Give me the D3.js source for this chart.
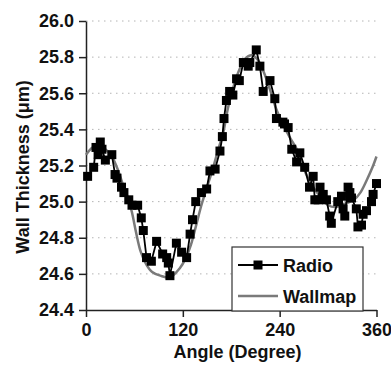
<!DOCTYPE html>
<html>
<head>
<meta charset="utf-8">
<script src="https://cdn.jsdelivr.net/npm/d3@7"></script>
<style>
  body { margin: 0; background: #fff; }
  svg text { font-family: "Liberation Sans", Arial, sans-serif; font-weight: bold; }
</style>
</head>
<body>
<div id="chart"></div>
<script>
// Radio measurement (angle in degrees, wall thickness in um)
var radioAngle = [2, 9.5, 12.4, 15, 17.7, 19.8, 24, 32, 36, 38.4, 44, 47, 53, 57, 64, 68.5, 71, 75, 81, 87.5,
  95, 100, 102, 104, 112, 118.5, 124.7, 129, 132, 136, 143, 149.5, 153.6, 160, 166, 169, 171, 174, 178, 182,
  186.6, 190, 195, 201, 203, 211, 215.5, 219.6, 228, 234, 236, 244, 246, 250.5, 255, 261, 265, 271, 277, 281.5,
  283.6, 287.7, 290, 294, 298, 302, 304, 312, 316.6, 318.6, 320.7, 324.8, 327, 329, 335, 337, 341.4, 343.4, 347.6, 353.8,
  355.8, 360];
var radioValue = [25.14, 25.19, 25.30, 25.26, 25.33, 25.29, 25.23, 25.26, 25.15, 25.13, 25.08, 25.05, 25.01, 24.98, 24.98, 24.91, 24.84, 24.69, 24.67, 24.78,
  24.71, 24.69, 24.66, 24.59, 24.77, 24.72, 24.69, 24.82, 24.90, 25.00, 25.05, 25.07, 25.17, 25.18, 25.28, 25.36, 25.46, 25.56, 25.61, 25.59,
  25.68, 25.67, 25.77, 25.75, 25.77, 25.84, 25.75, 25.61, 25.67, 25.57, 25.46, 25.44, 25.43, 25.41, 25.29, 25.22, 25.27, 25.19, 25.08, 25.14,
  25.01, 25.01, 25.08, 25.04, 25.01, 24.92, 24.88, 25.00, 25.03, 24.96, 24.92, 25.08, 25.05, 25.02, 24.96, 24.86, 24.87, 24.93, 24.95, 25.00,
  25.04, 25.10];

// Wallmap curve
var wallmapAngle = [0, 8, 15, 24, 32, 40, 46, 52, 57, 62, 68, 75, 82, 92, 104, 116, 124, 130, 136, 143,
  150, 157, 164, 170, 176, 183, 190, 197, 205, 212, 220, 228, 236, 244, 252, 260, 266, 272, 280, 290,
  300, 310, 322, 332, 340, 348, 355, 360];
var wallmapValue = [25.26, 25.30, 25.31, 25.29, 25.25, 25.17, 25.09, 25.02, 24.94, 24.83, 24.72, 24.65, 24.61, 24.59, 24.58, 24.63, 24.69, 24.76, 24.86, 24.98,
  25.08, 25.18, 25.29, 25.38, 25.52, 25.64, 25.73, 25.79, 25.81, 25.79, 25.72, 25.62, 25.51, 25.43, 25.36, 25.30, 25.24, 25.16, 25.09, 25.03,
  24.98, 24.97, 24.99, 25.01, 25.05, 25.12, 25.19, 25.25];

var xTicks = [0, 120, 240, 360];
var yTicks = [24.4, 24.6, 24.8, 25.0, 25.2, 25.4, 25.6, 25.8, 26.0];

var radio = radioAngle.map(function(a, i) { return {a: a, v: radioValue[i]}; });
var wallmap = wallmapAngle.map(function(a, i) { return {a: a, v: wallmapValue[i]}; });

var W = 391, H = 367;
var svg = d3.select("#chart").append("svg")
    .attr("width", W)
    .attr("height", H);

var x = d3.scaleLinear().domain([0, 360]).range([86, 376.5]);
var y = d3.scaleLinear().domain([24.4, 26.0]).range([310, 21]);

// dotted gridlines
svg.append("g")
  .selectAll("line")
  .data(yTicks.filter(function(d) { return d > 24.4; }))
  .enter()
  .append("line")
    .attr("x1", x(0))
    .attr("x2", x(360))
    .attr("y1", function(d) { return y(d); })
    .attr("y2", function(d) { return y(d); })
    .attr("stroke", "#b4b4b4")
    .attr("stroke-width", 1)
    .attr("stroke-dasharray", "1.5,4.5");

// Y axis
var yAxis = svg.append("g")
  .attr("transform", "translate(" + x(0) + ",0)")
  .call(d3.axisLeft(y).tickValues(yTicks).tickFormat(d3.format(".1f")).tickSize(7).tickSizeOuter(0).tickPadding(5));

// X axis
var xAxis = svg.append("g")
  .attr("transform", "translate(0," + y(24.4) + ")")
  .call(d3.axisBottom(x).tickValues(xTicks).tickSize(7).tickSizeOuter(0).tickPadding(6));

[yAxis, xAxis].forEach(function(g) {
  g.select(".domain").attr("stroke", "#222").attr("stroke-width", 1.5);
  g.selectAll(".tick line").attr("stroke", "#222").attr("stroke-width", 1.5);
  g.selectAll(".tick text").attr("fill", "#111").style("font-size", "18px").style("font-family", null);
});

// Wallmap line
var line = d3.line()
  .x(function(d) { return x(d.a); })
  .y(function(d) { return y(d.v); })
  .curve(d3.curveCatmullRom);

svg.append("path")
  .datum(wallmap)
  .attr("fill", "none")
  .attr("stroke", "#7a7a7a")
  .attr("stroke-width", 2.5)
  .attr("d", line);

// Radio line + markers
var radioLine = d3.line()
  .x(function(d) { return x(d.a); })
  .y(function(d) { return y(d.v); });

svg.append("path")
  .datum(radio)
  .attr("fill", "none")
  .attr("stroke", "#000")
  .attr("stroke-width", 1.8)
  .attr("d", radioLine);

var ms = 9;
svg.selectAll("rect.radio")
  .data(radio)
  .enter()
  .append("rect")
    .attr("class", "radio")
    .attr("x", function(d) { return x(d.a) - ms / 2; })
    .attr("y", function(d) { return y(d.v) - ms / 2; })
    .attr("width", ms)
    .attr("height", ms)
    .attr("fill", "#000");

// Legend
var lg = svg.append("g").attr("transform", "translate(232,247)");
lg.append("rect")
  .attr("width", 131)
  .attr("height", 64)
  .attr("fill", "#fff")
  .attr("stroke", "#333")
  .attr("stroke-width", 1.2);
lg.append("line").attr("x1", 6).attr("x2", 46).attr("y1", 18).attr("y2", 18)
  .attr("stroke", "#000").attr("stroke-width", 1.8);
lg.append("rect").attr("x", 21.5).attr("y", 13.5).attr("width", ms).attr("height", ms).attr("fill", "#000");
lg.append("text").attr("x", 51).attr("y", 24.5).style("font-size", "18px").attr("fill", "#111").text("Radio");
lg.append("line").attr("x1", 6).attr("x2", 46).attr("y1", 49).attr("y2", 49)
  .attr("stroke", "#7a7a7a").attr("stroke-width", 2.5);
lg.append("text").attr("x", 51).attr("y", 55.5).style("font-size", "18px").attr("fill", "#111").text("Wallmap");

// Axis titles
svg.append("text")
  .attr("x", 237.5)
  .attr("y", 358)
  .attr("text-anchor", "middle")
  .style("font-size", "18px")
  .attr("fill", "#111")
  .text("Angle (Degree)");

svg.append("text")
  .attr("transform", "translate(29,167)rotate(-90)")
  .attr("text-anchor", "middle")
  .style("font-size", "18px")
  .attr("fill", "#111")
  .text("Wall Thickness (\u03bcm)");
</script>
</body>
</html>
